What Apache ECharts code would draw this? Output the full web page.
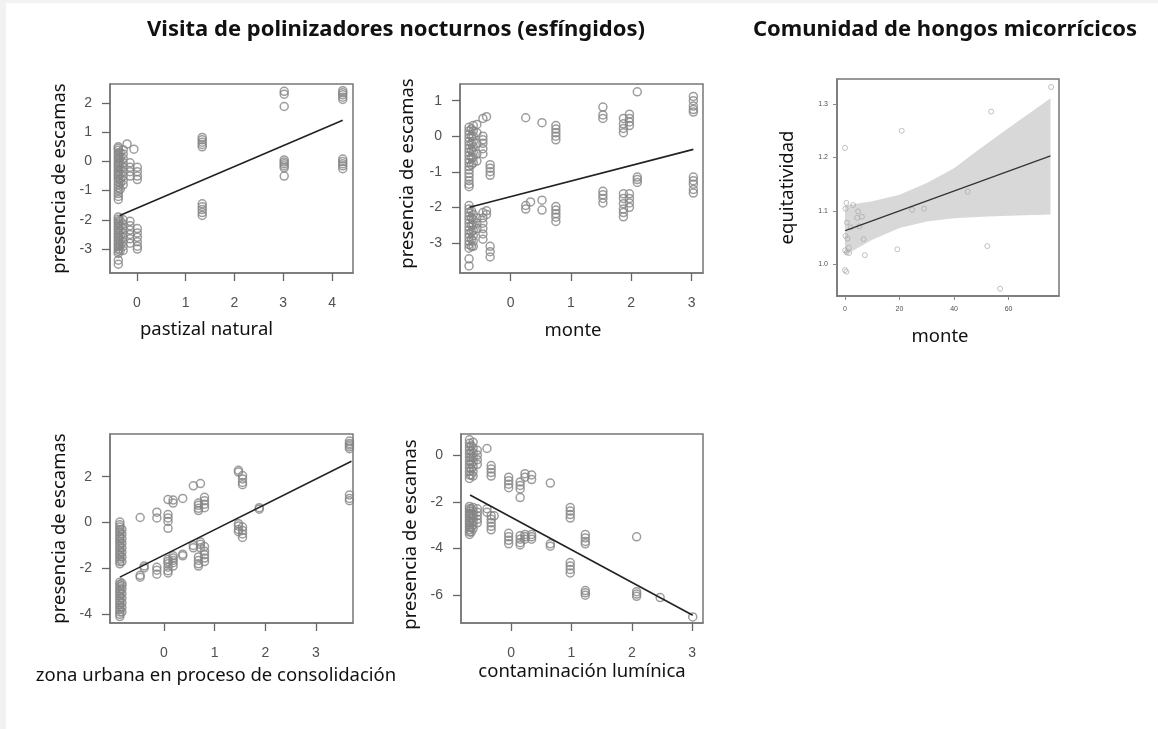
<!DOCTYPE html>
<html><head><meta charset="utf-8">
<script src="https://cdn.jsdelivr.net/npm/echarts@6/dist/echarts.min.js"></script>
<style>html,body{margin:0;padding:0;background:#fff;}#c{width:1158px;height:729px;}</style>
</head><body><div id="c"></div>
<script>
// ---------- DATA ----------
// Panel 1: pastizal natural (x groups, y values per group)
const pastizalX = [-0.38, -0.34, -0.28, -0.2, -0.14, -0.06, 0.01, 1.34, 3.02, 4.22];
const pastizalY = [
  [0.5,0.45,0.38,0.3,0.22,0.15,0.08,0.0,-0.08,-0.15,-0.22,-0.3,-0.38,-0.45,-0.52,-0.6,-0.7,-0.8,-0.9,-1.0,-1.1,-1.2,-1.3,-1.9,-1.98,-2.05,-2.12,-2.2,-2.28,-2.36,-2.44,-2.52,-2.6,-2.68,-2.76,-2.84,-2.92,-3.0,-3.08,-3.15,-3.38,-3.52],
  [0.3,0.12,-0.05,-0.25,-0.42,-0.6,-0.75,-0.95,-2.02,-2.2,-2.38,-2.55,-2.72,-2.88,-3.05],
  [0.4,0.25,0.1,-0.05,-0.2,-0.35,-0.5,-0.65,-0.8,-2.0,-2.15,-2.3,-2.45,-2.6,-2.75,-2.9,-3.05],
  [0.6],
  [-0.05,-0.2,-0.35,-0.5,-2.05,-2.2,-2.35,-2.5,-2.65,-2.8],
  [0.42],
  [-0.2,-0.35,-0.5,-0.62,-2.3,-2.45,-2.6,-2.75,-2.9,-3.0],
  [0.82,0.74,0.66,0.58,0.5,-1.45,-1.55,-1.65,-1.75,-1.85],
  [2.4,2.3,1.88,0.05,-0.02,-0.08,-0.15,-0.22,-0.5],
  [2.42,2.35,2.28,2.2,2.12,0.08,0.0,-0.08,-0.15,-0.25]
];
const pastizalLineX = [-0.35, 4.22];
const pastizalLineY = [-1.85, 1.41];

// Panel 2: monte (polinizadores)
const monteX = [-0.69, -0.65, -0.62, -0.56, -0.46, -0.4, -0.34, 0.25, 0.33, 0.52, 0.75, 1.53, 1.87, 1.97, 2.1, 3.03];
const monteY = [
  [0.25,0.15,0.05,-0.05,-0.15,-0.25,-0.35,-0.45,-0.55,-0.65,-0.75,-0.85,-0.95,-1.05,-1.15,-1.25,-1.35,-1.42,-1.95,-2.05,-2.15,-2.25,-2.35,-2.45,-2.55,-2.65,-2.75,-2.85,-2.95,-3.05,-3.15,-3.45,-3.65],
  [0.2,0.0,-0.2,-0.4,-0.6,-0.8,-2.1,-2.3,-2.5,-2.7,-2.9,-3.1],
  [0.3,0.15,0.0,-0.15,-0.3,-0.45,-0.6,-0.75,-2.2,-2.35,-2.5,-2.65,-2.8,-2.95,-3.1],
  [0.33,0.1,-0.2,-0.5,-0.7,-2.3,-2.45,-2.6],
  [0.5,0.0,-0.1,-0.2,-0.35,-0.5,-2.15,-2.3,-2.45,-2.6,-2.75,-2.9],
  [0.55,-2.1,-2.2],
  [-0.8,-0.9,-1.0,-1.1,-3.1,-3.25,-3.4],
  [0.52,-1.95,-2.05],
  [-1.85],
  [0.38,-1.8,-2.08],
  [0.3,0.2,0.1,0.0,-0.1,-1.98,-2.08,-2.18,-2.28,-2.4],
  [0.82,0.6,0.5,-1.55,-1.65,-1.75,-1.88],
  [0.5,0.35,0.22,0.1,-1.62,-1.75,-1.9,-2.05,-2.15,-2.27],
  [0.62,0.5,0.4,0.3,-1.62,-1.75,-1.88,-2.0],
  [1.25,-1.15,-1.22,-1.3],
  [1.12,1.0,0.85,0.75,0.68,-1.15,-1.25,-1.35,-1.5,-1.6]
];
const monteLineX = [-0.68, 3.03];
const monteLineY = [-2.0, -0.37];

// Panel 3: hongos micorrícicos
const hongosX = [0, 0.2, 0.5, 0.7, 0.2, 0.9, 0, 0.6, 1.4, 1.5, 0, 0.5, 3.0, 2.1, 4.5, 4.8, 5.3, 6.2, 6.8, 7.3, 19.2, 20.8, 24.6, 29.0, 45.0, 52.2, 53.6, 56.9, 75.6];
const hongosY = [1.218, 1.104, 1.115, 1.078, 1.053, 1.048, 1.026, 1.022, 1.031, 1.021, 0.989, 0.986, 1.111, 1.069, 1.087, 1.099, 1.071, 1.089, 1.047, 1.017, 1.028, 1.250, 1.102, 1.104, 1.136, 1.034, 1.286, 0.954, 1.332];
const hongosLineX = [0.1, 75.4];
const hongosLineY = [1.063, 1.203];
const bandX = [0, 10, 20, 30, 40, 50, 60, 75.4];
const bandUpper = [1.110, 1.118, 1.130, 1.152, 1.180, 1.218, 1.255, 1.311];
const bandLower = [1.017, 1.046, 1.068, 1.080, 1.086, 1.089, 1.091, 1.093];

// Panel 4: zona urbana en proceso de consolidación
const urbanaX = [-0.87, -0.83, -0.47, -0.39, -0.14, 0.08, 0.18, 0.37, 0.58, 0.68, 0.72, 0.8, 1.47, 1.55, 1.88, 3.66];
const urbanaY = [
  [0.02,-0.1,-0.2,-0.3,-0.4,-0.5,-0.6,-0.7,-0.8,-0.9,-1.0,-1.1,-1.2,-1.3,-1.4,-1.5,-1.6,-1.7,-1.8,-2.6,-2.7,-2.8,-2.9,-3.0,-3.1,-3.2,-3.3,-3.4,-3.5,-3.6,-3.7,-3.8,-3.9,-4.0,-4.1],
  [-0.3,-0.5,-0.7,-0.9,-1.1,-1.3,-1.5,-1.7,-2.65,-2.75,-2.9,-3.1,-3.3,-3.5,-3.7,-3.9],
  [0.22,-2.3,-2.38],
  [-1.9,-1.98],
  [0.45,0.2,-1.95,-2.08,-2.25],
  [1.0,0.35,0.2,0.05,-0.25,-1.6,-1.7,-1.8,-1.95,-2.1,-2.2],
  [0.98,0.85,-1.45,-1.55,-1.65,-1.75,-1.9],
  [1.05,-1.38,-1.45],
  [1.6,-1.0,-1.1],
  [0.85,0.75,0.62,0.52,-1.5,-1.65,-1.8,-1.9],
  [1.7,-0.85,-0.95,-1.1],
  [1.1,0.95,0.8,0.65,-1.05,-1.25,-1.4,-1.55,-1.7],
  [2.28,2.2,-0.05,-0.15,-0.3,-0.4],
  [2.05,1.9,1.75,1.65,-0.2,-0.35,-0.5,-0.65],
  [0.65,0.58],
  [3.55,3.45,3.38,3.3,3.22,1.2,1.05,0.95]
];
const urbanaLineX = [-0.87, 3.7];
const urbanaLineY = [-2.38, 2.67];

// Panel 5: contaminación lumínica
const luzX = [-0.69, -0.66, -0.63, -0.56, -0.4, -0.33, -0.28, -0.04, 0.15, 0.23, 0.34, 0.65, 0.98, 1.23, 2.08, 2.47, 3.01];
const luzY = [
  [0.65,0.5,0.35,0.2,0.05,-0.1,-0.25,-0.4,-0.55,-0.7,-0.85,-1.0,-2.2,-2.3,-2.4,-2.5,-2.6,-2.7,-2.8,-2.9,-3.0,-3.1,-3.2,-3.3,-3.4],
  [0.4,0.15,-0.1,-0.35,-0.6,-0.85,-2.3,-2.5,-2.7,-2.9,-3.1,-3.3],
  [0.55,0.3,0.1,-0.1,-0.3,-0.5,-0.7,-0.9,-2.25,-2.4,-2.55,-2.7,-2.85,-3.0,-3.15],
  [0.2,0.0,-0.2,-0.4,-2.3,-2.45,-2.6,-2.75,-2.9],
  [0.28,-2.3,-2.45],
  [-0.45,-0.6,-0.75,-0.9,-2.6,-2.75,-2.9,-3.05,-3.2],
  [-2.6],
  [-0.95,-1.1,-1.25,-1.4,-3.35,-3.5,-3.65,-3.8],
  [-1.15,-1.3,-1.45,-1.82,-3.45,-3.6,-3.75,-3.85],
  [-0.8,-0.95,-3.4,-3.5,-3.6],
  [-0.85,-1.05,-3.4,-3.5,-3.6],
  [-1.2,-3.8,-3.9],
  [-2.25,-2.4,-2.55,-2.7,-4.6,-4.75,-4.9,-5.05],
  [-3.4,-3.55,-3.7,-3.8,-5.8,-5.9,-6.0],
  [-3.5,-5.85,-5.95,-6.05],
  [-6.1],
  [-6.93]
];
const luzLineX = [-0.68, 3.01];
const luzLineY = [-1.71, -6.86];

// tick values
const pastizalXTicks = [0, 1, 2, 3, 4];
const pastizalYTicks = [-3, -2, -1, 0, 1, 2];
const monteXTicks = [0, 1, 2, 3];
const monteYTicks = [-3, -2, -1, 0, 1];
const hongosXTicks = [0, 20, 40, 60];
const hongosYTicks = [1.0, 1.1, 1.2, 1.3];
const urbanaXTicks = [0, 1, 2, 3];
const urbanaYTicks = [-4, -2, 0, 2];
const luzXTicks = [0, 1, 2, 3];
const luzYTicks = [-6, -4, -2, 0];

const titles = ['Visita de polinizadores nocturnos (esfíngidos)', 'Comunidad de hongos micorrícicos'];

// ---------- BUILD ----------
function groupPairs(gx, gy) { const o = []; gx.forEach((x, i) => gy[i].forEach(y => o.push([x, y]))); return o; }
function zipPairs(xs, ys) { return xs.map((x, i) => [x, ys[i]]); }

const NAMEFONT = 'Noto Sans';
const TICKFONT = 'Liberation Sans';
const NAMESIZE = 18.5;

function grid(left, top, width, height) {
  return { left, top, width, height, show: true, borderColor: '#777', borderWidth: 1.5, containLabel: false, outerBoundsMode: 'none' };
}
function xAx(gi, min, max, ticks, name, gap, pad, small) {
  return {
    type: 'value', gridIndex: gi, min, max, name, nameLocation: 'middle', nameGap: gap,
    nameTextStyle: { fontFamily: NAMEFONT, fontSize: NAMESIZE, color: '#111', padding: pad },
    axisLine: { show: true, onZero: false, lineStyle: { color: '#777', width: 1.5 } },
    axisTick: { show: true, length: small ? 4 : 8, customValues: ticks, lineStyle: { color: small ? '#888' : '#666', width: small ? 1 : 1.3 } },
    axisLabel: { customValues: ticks, margin: small ? 10 : 23, fontFamily: TICKFONT, fontSize: small ? 7 : 14, color: '#505050' },
    splitLine: { show: false }
  };
}
function yAx(gi, min, max, ticks, name, gap, pad, small) {
  return {
    type: 'value', gridIndex: gi, min, max, name, nameLocation: 'middle', nameGap: gap, nameRotate: 90,
    nameTextStyle: { fontFamily: NAMEFONT, fontSize: NAMESIZE, color: '#111', padding: pad },
    axisLine: { show: true, onZero: false, lineStyle: { color: '#777', width: 1.5 } },
    axisTick: { show: true, length: small ? 4 : 8, customValues: ticks, lineStyle: { color: small ? '#888' : '#666', width: small ? 1 : 1.3 } },
    axisLabel: { customValues: ticks, margin: small ? 9 : 18, fontFamily: TICKFONT, fontSize: small ? 7 : 14, color: '#505050',
      formatter: small ? (v => Number(v).toFixed(1)) : (v => String(v)) },
    splitLine: { show: false }
  };
}
function pts(i, data, small) {
  return { type: 'scatter', xAxisIndex: i, yAxisIndex: i, data, symbol: 'circle', symbolSize: small ? 5 : 8, silent: true,
    itemStyle: { color: 'rgba(0,0,0,0)', borderColor: small ? '#a8a8a8' : '#858585', borderWidth: small ? 0.9 : 1.5 }, z: 2 };
}
function fit(i, data, small) {
  return { type: 'line', xAxisIndex: i, yAxisIndex: i, data, symbol: 'none', silent: true,
    lineStyle: { color: small ? '#333' : '#222', width: small ? 1.2 : 1.6 }, z: 3 };
}

const option = {
  animation: false,
  backgroundColor: '#fff',
  grid: [
    grid(110, 84, 243, 189),
    grid(460, 84, 243, 189),
    grid(837, 79, 222, 217),
    grid(110, 434, 243, 189),
    grid(461, 434, 242, 189)
  ],
  xAxis: [
    xAx(0, -0.55, 4.43, pastizalXTicks, 'pastizal natural', 47, [0, 50, 0, 0]),
    xAx(1, -0.84, 3.19, monteXTicks, 'monte', 48, [0, 17, 0, 0]),
    xAx(2, -2.93, 78.5, hongosXTicks, 'monte', 31, [0, 16, 0, 0], true),
    xAx(3, -1.065, 3.73, urbanaXTicks, 'zona urbana en proceso de consolidación', 43, [0, 31, 0, 0]),
    xAx(4, -0.83, 3.18, luzXTicks, 'contaminación lumínica', 39, [0, 0, 0, 0])
  ],
  yAxis: [
    yAx(0, -3.82, 2.65, pastizalYTicks, 'presencia de escamas', 41, [0, 0, 0, 0]),
    yAx(1, -3.85, 1.47, monteYTicks, 'presencia de escamas', 43, [0, 0, 0, 10]),
    yAx(2, 0.9405, 1.347, hongosYTicks, 'equitatividad', 40, [0, 0, 0, 0], true),
    yAx(3, -4.38, 3.86, urbanaYTicks, 'presencia de escamas', 41, [0, 0, 0, 0]),
    yAx(4, -7.19, 0.9, luzYTicks, 'presencia de escamas', 41, [0, 12, 0, 0])
  ],
  graphic: [
    { type: 'rect', shape: { x: 0, y: 0, width: 1158, height: 3 }, style: { fill: '#f2f2f2' }, silent: true },
    { type: 'rect', shape: { x: 0, y: 0, width: 6, height: 729 }, style: { fill: '#f2f2f2' }, silent: true },
    { type: 'text', x: 396, y: 30, style: { text: titles[0], font: 'bold 22px "Noto Sans"', fill: '#111', align: 'center', verticalAlign: 'middle' } },
    { type: 'text', x: 945, y: 30, style: { text: titles[1], font: 'bold 22px "Noto Sans"', fill: '#111', align: 'center', verticalAlign: 'middle' } }
  ],
  series: [
    pts(0, groupPairs(pastizalX, pastizalY)),
    fit(0, zipPairs(pastizalLineX, pastizalLineY)),
    pts(1, groupPairs(monteX, monteY)),
    fit(1, zipPairs(monteLineX, monteLineY)),
    {
      type: 'custom', xAxisIndex: 2, yAxisIndex: 2, silent: true, z: 1,
      data: bandX.map((x, i) => [x, bandLower[i], bandUpper[i]]),
      encode: { x: 0, y: [1, 2] },
      renderItem: function (params, api) {
        if (params.dataIndex !== 0) return;
        const up = bandX.map((x, i) => api.coord([x, bandUpper[i]]));
        const lo = bandX.map((x, i) => api.coord([x, bandLower[i]])).reverse();
        return { type: 'polygon', shape: { points: up.concat(lo) }, style: { fill: '#d8d8d8' } };
      }
    },
    pts(2, zipPairs(hongosX, hongosY), true),
    fit(2, zipPairs(hongosLineX, hongosLineY), true),
    pts(3, groupPairs(urbanaX, urbanaY)),
    fit(3, zipPairs(urbanaLineX, urbanaLineY)),
    pts(4, groupPairs(luzX, luzY)),
    fit(4, zipPairs(luzLineX, luzLineY))
  ]
};
const chart = echarts.init(document.getElementById('c'), null, { renderer: 'canvas' });
chart.setOption(option);
</script></body></html>
